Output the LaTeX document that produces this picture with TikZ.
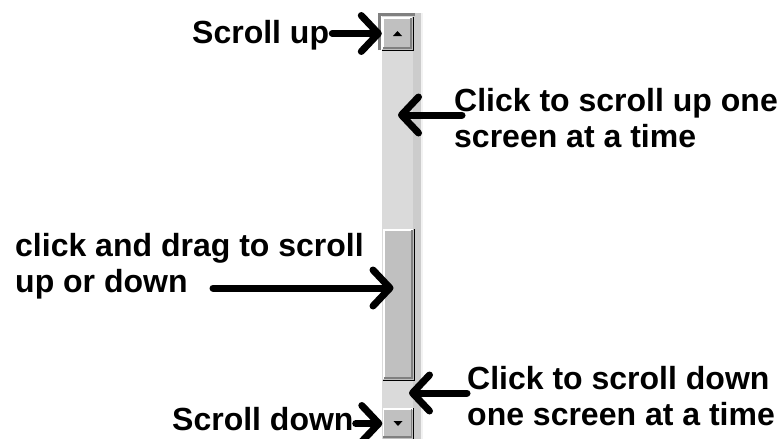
\documentclass[tikz,border=0pt]{standalone}
\usepackage{fontspec}
\newfontfamily\shotfont{Liberation Sans}
\usetikzlibrary{arrows.meta,positioning}
\definecolor{btnface}{RGB}{192,192,192}
\definecolor{btnshadow}{RGB}{128,128,128}
\definecolor{trackgray}{RGB}{218,218,218}
\definecolor{edgegray}{RGB}{204,204,204}
% raised 3D border round a scroll bar part
\newcommand\raised[1]{%
  \draw[white,line width=1.5pt] ([shift={(1,-1)}]#1.south west) -- ([shift={(1,1)}]#1.north west) -- ([shift={(-1,1)}]#1.north east);
  \draw[btnshadow,line width=1.5pt] ([shift={(1,-2)}]#1.south west) -- ([shift={(-2,-2)}]#1.south east) -- ([shift={(-2,1)}]#1.north east);
  \draw[black,line width=1.2pt] (#1.south west) -- (#1.south east) -- (#1.north east);}

\begin{document}
\begin{tikzpicture}[x=1pt,y=-1pt,
  callout/.style={font=\shotfont\bfseries\fontsize{32}{36}\selectfont,inner sep=0pt,anchor=base west,align=left},
  pointer/.style={line width=7pt,line cap=round,-{Straight Barb[length=17pt,width=36pt,round]}},
  part/.style={fill=btnface,inner sep=0pt,minimum width=31pt}]
  \useasboundingbox (0,0) rectangle (782,439);

  % scroll bar
  \fill[edgegray] (413,13) rectangle (423,439);
  \fill[white!90!gray] (421,13) rectangle (423,439);
  \fill[trackgray] (382,13) rectangle (413,439);
  \draw[btnshadow,line width=3pt] (379.5,50) -- (379.5,14.5) -- (415,14.5);
  \node[part,minimum height=33pt] (upbtn) at (397.5,33.5) {};
  \node[part,minimum height=151pt] (thumb) at (398.5,304.5) {};
  \node[part,minimum height=31pt] (downbtn) at (398,423.5) {};
  \raised{upbtn}
  \raised{thumb}
  \raised{downbtn}
  \fill (upbtn.center) ++(-4.5,2.5) -- ++(9,0) -- ++(-4.5,-5) -- cycle;
  \fill (downbtn.center) ++(-4.5,-2.5) -- ++(9,0) -- ++(-4.5,5) -- cycle;

  % labels
  \node[callout] (upLabel) at (192,43) {Scroll up};
  \node[callout] (pageUpLabel) at (454,147) {Click to scroll up one\\screen at a time};
  \node[callout] (dragLabel) at (15,292) {click and drag to scroll\\up or down};
  \node[callout] (pageDownLabel) at (467,425) {Click to scroll down\\one screen at a time};
  \node[callout] (downLabel) at (172,430) {Scroll down};

  \coordinate (pgupTip) at (398,115);
  \coordinate (dragTail) at (213,288);
  \coordinate (pgdnTip) at (409,393);

  % pointers
  \draw[pointer] ([xshift=3pt]upLabel.east |- upbtn) -- (upbtn.west);
  \draw[pointer] ([xshift=8pt]pageUpLabel.west |- pgupTip) -- (pgupTip);
  \draw[pointer] (dragTail) -- ([xshift=-5pt]dragTail -| thumb.center);
  \draw[pointer] (pageDownLabel.west |- pgdnTip) -- (pgdnTip);
  \draw[pointer] ([xshift=2pt]downLabel.east |- downbtn) -- (downbtn.west);
\end{tikzpicture}
\end{document}
